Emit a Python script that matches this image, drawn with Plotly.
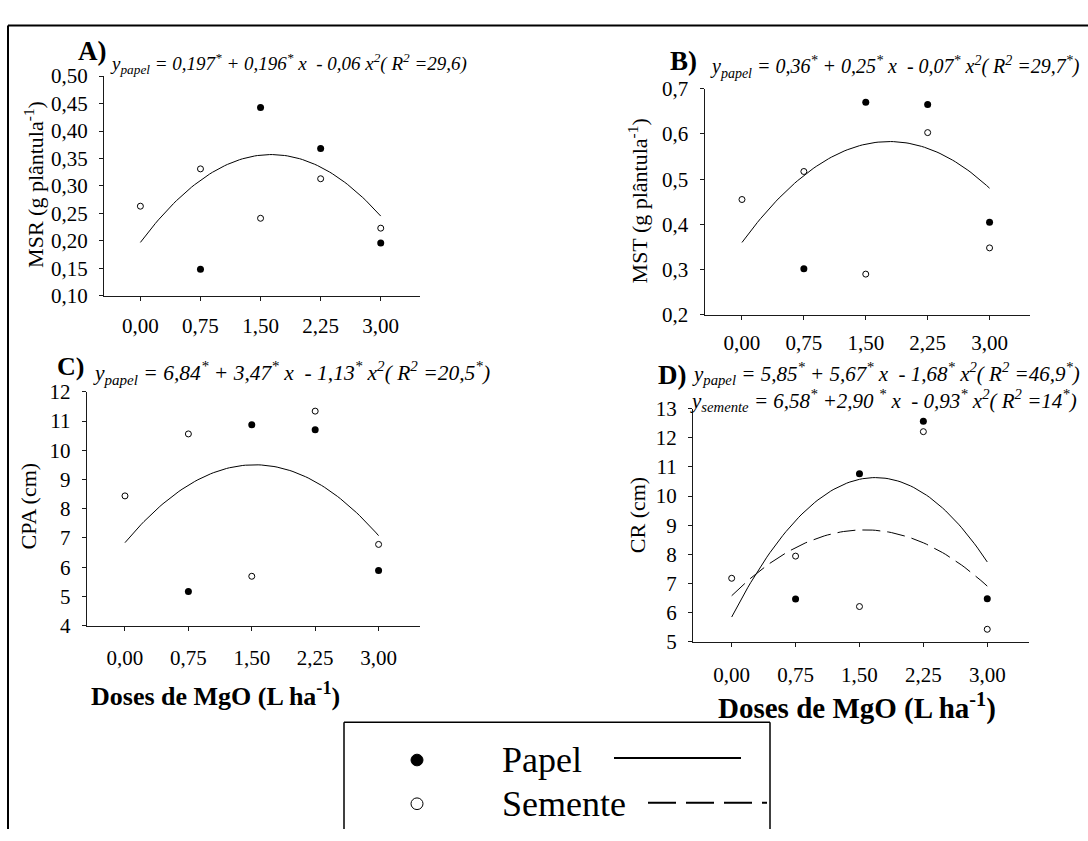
import numpy as np
import plotly.graph_objects as go

W, H = 1088, 841

# Doses of MgO (L ha-1)
doses = [0.0, 0.75, 1.5, 2.25, 3.0]
dose_labels = ["0,00", "0,75", "1,50", "2,25", "3,00"]

# Observed means (papel = paper treatment, semente = seed treatment)
msr_papel = [None, 0.148, 0.443, 0.368, 0.196]
msr_semente = [0.263, 0.331, 0.241, 0.313, 0.223]
mst_papel = [None, 0.302, 0.670, 0.665, 0.405]
mst_semente = [0.455, 0.517, 0.290, 0.603, 0.348]
cpa_papel = [None, 5.17, 10.87, 10.70, 5.89]
cpa_semente = [8.44, 10.56, 5.69, 11.34, 6.78]
cr_papel = [None, 6.47, 10.77, 12.57, 6.48]
cr_semente = [7.18, 7.94, 6.21, 12.21, 5.43]

# Quadratic regression coefficients (b0, b1, b2)
msr_fit_papel = [0.197, 0.196, -0.06]
mst_fit_papel = [0.36, 0.25, -0.07]
cpa_fit_papel = [6.84, 3.47, -1.13]
cr_fit_papel = [5.85, 5.67, -1.68]
cr_fit_semente = [6.58, 2.90, -0.93]


def px(x):
    return x / W


def py(y):
    return 1 - y / H


def quad(c, x):
    return c[0] + c[1] * x + c[2] * x ** 2


xfit = np.linspace(0, 3, 81)

FONT = "Liberation Serif, Times New Roman, serif"
AX = "#1a1a1a"

fig = go.Figure()

# panel id, x-domain px, y-domain px (top, bottom), y range, dtick, format,
# papel, semente, fitted curves, x tick label standoff
panels = [
    ("", (104, 420), (66, 292), [0.10, 0.50], 0.05, ".2f", msr_papel, msr_semente,
     [(msr_fit_papel, "solid")], 7),
    ("2", (704.5, 1030), (79, 311.7), [0.2, 0.7], 0.1, ".1f", mst_papel, mst_semente,
     [(mst_fit_papel, "solid")], 5),
    ("3", (86.6, 420), (391, 631.7), [4, 12], 1, "d", cpa_papel, cpa_semente,
     [(cpa_fit_papel, "solid")], 9),
    ("4", (693, 1029), (408.3, 648.3), [5, 13], 1, "d", cr_papel, cr_semente,
     [(cr_fit_papel, "solid"), (cr_fit_semente, "18px,7px")], 10),
]

for pid, (x0, x1), (ytop, ybot), yr, dt, fmt, pap, sem, fits, stand in panels:
    xa, ya = "x" + pid, "y" + pid
    for coef, dash in fits:
        fig.add_trace(go.Scatter(
            x=xfit, y=quad(coef, xfit), mode="lines", xaxis=xa, yaxis=ya,
            line=dict(color="black", width=1, dash=dash), showlegend=False,
            hoverinfo="skip"))
    fig.add_trace(go.Scatter(
        x=doses, y=pap, mode="markers", xaxis=xa, yaxis=ya, showlegend=False,
        marker=dict(symbol="circle", size=7, color="black")))
    fig.add_trace(go.Scatter(
        x=doses, y=sem, mode="markers", xaxis=xa, yaxis=ya, showlegend=False,
        marker=dict(symbol="circle", size=6, color="white",
                    line=dict(color="black", width=1))))
    axis_common = dict(showline=True, linecolor=AX, linewidth=1, ticks="outside",
                       ticklen=4, tickwidth=1, tickcolor=AX, showgrid=False,
                       zeroline=False, tickfont=dict(family=FONT, size=21, color="black"))
    fig.layout["xaxis" + pid] = dict(
        domain=[px(x0), px(x1)], range=[-0.454, 3.49], anchor=ya,
        tickmode="array", tickvals=doses, ticktext=dose_labels,
        ticklabelstandoff=stand, **axis_common)
    fig.layout["yaxis" + pid] = dict(
        domain=[py(ybot), py(ytop)], range=yr, anchor=xa, dtick=dt,
        tick0=yr[0], tickformat=fmt, ticklabelstandoff=7, **axis_common)

annotations = []


def text(x, y, s, size, xanchor="center", yanchor="middle", angle=0):
    annotations.append(dict(
        x=px(x), y=py(y), xref="paper", yref="paper", text=s, showarrow=False,
        xanchor=xanchor, yanchor=yanchor, textangle=angle,
        font=dict(family=FONT, size=size, color="black")))


# panel letters
text(92, 40, "<b>A)</b>", 27)
text(683, 50, "<b>B)</b>", 27)
text(70, 365, "<b>C)</b>", 26)
text(672, 374, "<b>D)</b>", 27)

# regression equations
text(108, 53, "<i>y<sub>papel</sub> = 0,197<sup>*</sup> + 0,196<sup>*</sup> x  - 0,06 x<sup>2</sup>( R<sup>2</sup> =29,6)</i>", 19, "left")
text(708, 57, "<i>y<sub>papel</sub> = 0,36<sup>*</sup> + 0,25<sup>*</sup> x  - 0,07<sup>*</sup> x<sup>2</sup>( R<sup>2</sup> =29,7<sup>*</sup>)</i>", 20, "left")
text(91, 372, "<i>y<sub>papel</sub> = 6,84<sup>*</sup> + 3,47<sup>*</sup> x  - 1,13<sup>*</sup> x<sup>2</sup>( R<sup>2</sup> =20,5<sup>*</sup>)</i>", 21.5, "left")
text(690, 372, "<i>y<sub>papel</sub> = 5,85<sup>*</sup> + 5,67<sup>*</sup> x  - 1,68<sup>*</sup> x<sup>2</sup>( R<sup>2</sup> =46,9<sup>*</sup>)</i>", 21, "left")
text(688, 400, "<i>y<sub>semente</sub> = 6,58<sup>*</sup> +2,90 <sup>*</sup> x  - 0,93<sup>*</sup> x<sup>2</sup>( R<sup>2</sup> =14<sup>*</sup>)</i>", 21, "left")

# y-axis titles
text(34, 178, "MSR (g plântula<sup>-1</sup>)", 22, angle=-90)
text(638, 195, "MST (g plântula<sup>-1</sup>)", 22, angle=-90)
text(28, 509, "CPA (cm)", 22, angle=-90)
text(637, 518, "CR (cm)", 22, angle=-90)

# x-axis titles
text(215, 703, "<b>Doses de MgO (L ha<sup>-1</sup>)</b>", 26)
text(857, 715, "<b>Doses de MgO (L ha<sup>-1</sup>)</b>", 29)

# legend texts
text(500, 770, "Papel", 36, "left")
text(500, 815, "Semente", 36, "left")

shapes = []


def line(x0, y0, x1, y1, width=2, dash="solid"):
    shapes.append(dict(type="line", xref="paper", yref="paper",
                       x0=px(x0), y0=py(y0), x1=px(x1), y1=py(y1),
                       line=dict(color="black", width=width, dash=dash)))


# outer frame
line(8, 14, W, 14, 2)
line(8, 14, 8, H, 2)

# legend box
line(344, 731, 770, 731, 1.5)
line(344, 731, 344, H, 1.5)
line(770, 731, 770, H, 1.5)

# legend keys
r = 6
shapes.append(dict(type="circle", xref="paper", yref="paper",
                   x0=px(417 - r), x1=px(417 + r), y0=py(770 + r), y1=py(770 - r),
                   fillcolor="black", line=dict(color="black", width=1)))
shapes.append(dict(type="circle", xref="paper", yref="paper",
                   x0=px(417 - r), x1=px(417 + r), y0=py(815 + r), y1=py(815 - r),
                   fillcolor="white", line=dict(color="black", width=1)))
line(614, 768, 741, 768, 2)
line(648, 814, 767, 814, 2, "28px,10px")

fig.update_layout(
    width=W, height=H, margin=dict(l=0, r=0, t=0, b=0),
    paper_bgcolor="white", plot_bgcolor="white", separators=",.",
    showlegend=False, annotations=annotations, shapes=shapes,
    font=dict(family=FONT, color="black"))

fig.write_html("out.html")
